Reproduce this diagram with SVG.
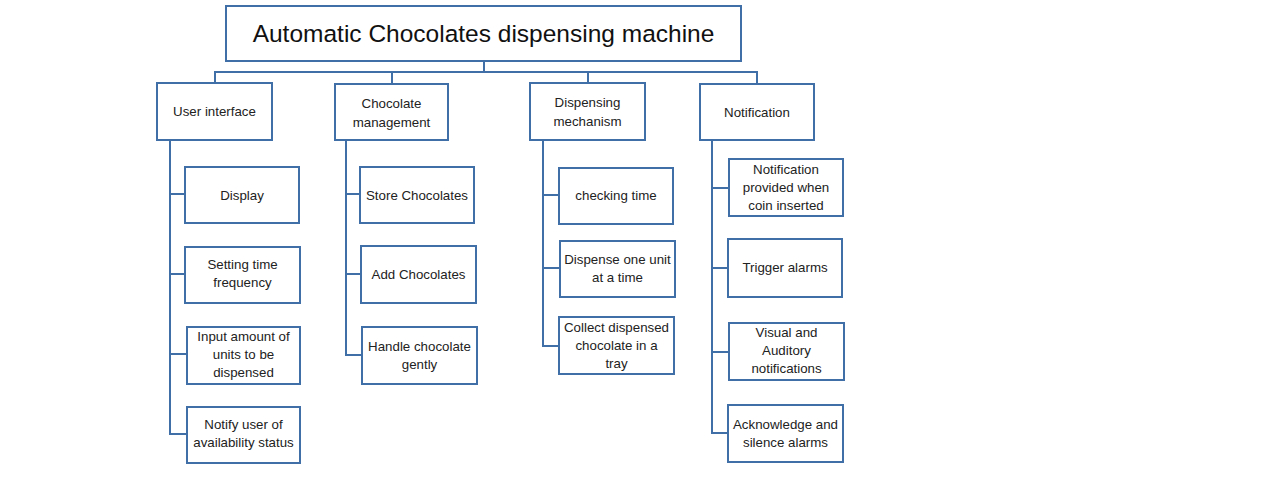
<svg xmlns="http://www.w3.org/2000/svg" width="1280" height="482" viewBox="0 0 1280 482">
<style>
rect.b{fill:#fff;stroke:#3f6fa6;stroke-width:2}
.c line,.c polyline{stroke:#3f6fa6;stroke-width:2;fill:none}
text{font-family:"Liberation Sans",Arial,sans-serif;fill:#222;text-anchor:middle;font-size:13.3px}
text.t{font-size:24.5px;fill:#111}
text.h{font-size:13.3px}
</style>
<rect width="1280" height="482" fill="#fff"/>
<g class="c" id="connectors">
<line x1="484" y1="61" x2="484" y2="72"/>
<line x1="214" y1="72" x2="758" y2="72"/>
<line x1="215" y1="72" x2="215" y2="83"/>
<line x1="392" y1="72" x2="392" y2="84"/>
<line x1="588" y1="72" x2="588" y2="83"/>
<line x1="757" y1="72" x2="757" y2="84"/>
<polyline points="170,140 170,434 187,434"/>
<line x1="170" y1="194" x2="185" y2="194"/>
<line x1="170" y1="274" x2="185" y2="274"/>
<line x1="170" y1="354" x2="187" y2="354"/>
<polyline points="346,140 346,355 362,355"/>
<line x1="346" y1="194" x2="360" y2="194"/>
<line x1="346" y1="274" x2="361" y2="274"/>
<polyline points="543,140 543,346 559,346"/>
<line x1="543" y1="195" x2="559" y2="195"/>
<line x1="543" y1="268" x2="560" y2="268"/>
<polyline points="712,140 712,433 728,433"/>
<line x1="712" y1="188" x2="729" y2="188"/>
<line x1="712" y1="268" x2="728" y2="268"/>
<line x1="712" y1="352" x2="729" y2="352"/>
</g>
<g id="root"><rect class="b" x="226" y="6" width="515" height="55"/><text class="t" x="483.5" y="42">Automatic Chocolates dispensing machine</text></g>
<g id="user-interface"><rect class="b" x="157" y="83" width="115" height="57"/><text class="h" x="214.5" y="116">User interface</text></g>
<g id="chocolate-management"><rect class="b" x="335" y="84" width="113" height="56"/><text class="h" x="391.5" y="108">Chocolate</text><text class="h" x="391.5" y="127">management</text></g>
<g id="dispensing-mechanism"><rect class="b" x="530" y="83" width="115" height="57"/><text class="h" x="587.5" y="107">Dispensing</text><text class="h" x="587.5" y="126">mechanism</text></g>
<g id="notification"><rect class="b" x="700" y="84" width="114" height="56"/><text class="h" x="757" y="117">Notification</text></g>

<g id="display"><rect class="b" x="185" y="167" width="114" height="56"/><text x="242" y="200">Display</text></g>
<g id="setting-time"><rect class="b" x="185" y="247" width="115" height="56"/><text x="242.5" y="269">Setting time</text><text x="242.5" y="287">frequency</text></g>
<g id="input-amount"><rect class="b" x="187" y="327" width="113" height="57"/><text x="243.5" y="341">Input amount of</text><text x="243.5" y="359">units to be</text><text x="243.5" y="377">dispensed</text></g>
<g id="notify-user"><rect class="b" x="187" y="407" width="113" height="56"/><text x="243.5" y="429">Notify user of</text><text x="243.5" y="447">availability status</text></g>

<g id="store"><rect class="b" x="360" y="167" width="114" height="56"/><text x="417" y="200">Store Chocolates</text></g>
<g id="add"><rect class="b" x="361" y="246" width="115" height="57"/><text x="418.5" y="279">Add Chocolates</text></g>
<g id="handle"><rect class="b" x="362" y="327" width="115" height="57"/><text x="419.5" y="351">Handle chocolate</text><text x="419.5" y="369">gently</text></g>

<g id="checking"><rect class="b" x="559" y="168" width="114" height="56"/><text x="616" y="200">checking time</text></g>
<g id="dispense-one"><rect class="b" x="560" y="241" width="115" height="56"/><text x="617.5" y="264">Dispense one unit</text><text x="617.5" y="282">at a time</text></g>
<g id="collect"><rect class="b" x="559" y="317" width="115" height="57"/><text x="616.5" y="332">Collect dispensed</text><text x="616.5" y="350">chocolate in a</text><text x="616.5" y="368">tray</text></g>

<g id="notif-coin"><rect class="b" x="729" y="159" width="114" height="57"/><text x="786" y="174">Notification</text><text x="786" y="192">provided when</text><text x="786" y="210">coin inserted</text></g>
<g id="trigger"><rect class="b" x="728" y="239" width="114" height="58"/><text x="785" y="272">Trigger alarms</text></g>
<g id="visual"><rect class="b" x="729" y="323" width="115" height="57"/><text x="786.5" y="337">Visual and</text><text x="786.5" y="355">Auditory</text><text x="786.5" y="373">notifications</text></g>
<g id="acknowledge"><rect class="b" x="728" y="405" width="115" height="57"/><text x="785.5" y="429">Acknowledge and</text><text x="785.5" y="447">silence alarms</text></g>
</svg>
